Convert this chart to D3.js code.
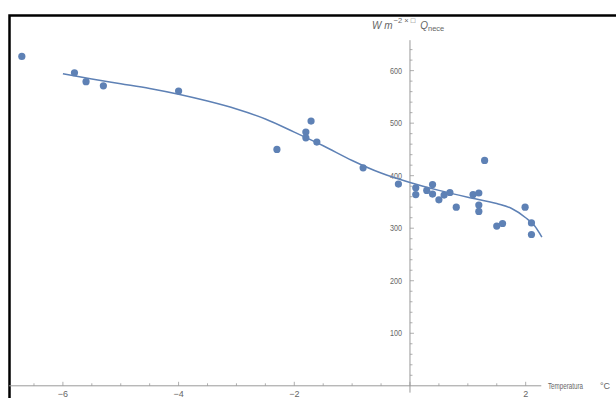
<!DOCTYPE html>
<html><head><meta charset="utf-8">
<script src="https://cdn.jsdelivr.net/npm/d3@7"></script>
<style>body{margin:0;background:#fff}svg{display:block}</style>
</head><body>
<script>
// Data
const temps = [-6.71,-5.80,-5.60,-5.30,-4.00,-2.30,-1.80,-1.80,-1.71,-1.61,-0.81,-0.20,0.10,0.10,0.29,0.39,0.39,0.50,0.59,0.69,0.80,1.09,1.19,1.19,1.19,1.29,1.50,1.60,1.99,2.10,2.10];
const qnece = [627,596,579,571,561,450,483,472,504,464,415,384,377,364,372,383,365,354,363,368,340,364,367,344,332,429,304,309,340,310,288];
// Fitted curve
const fitT = [-6.0,-5.5,-5.0,-4.5,-4.0,-3.5,-3.0,-2.5,-2.0,-1.5,-1.0,-0.5,0.0,0.5,1.0,1.5,1.75,2.0,2.15,2.28];
const fitQ = [594,584,575,566,555,542,527,508,483,457,429,405,387,372,359,347,338,320,305,283];
const xTickLabels = [-6,-4,-2,2];
const yTickLabels = [100,200,300,400,500,600];
const xLabel = "Temperatura";
const xUnit = "°C";

const W = 616, H = 398;
const svg = d3.select("body").append("svg").attr("width", W).attr("height", H);
const x = d3.scaleLinear().domain([-7, 2.5]).range([5.05, 554.6]);
const y = d3.scaleLinear().domain([0, 700]).range([385.8, 18.1]);
const axisCol = "#9a9a9a", txtCol = "#666", blue = "rgb(94,129,181)";
const font = "Liberation Sans, Arial, sans-serif";

// frame
svg.append("rect").attr("x", 9.5).attr("y", 15.5).attr("width", 700).attr("height", 500)
  .attr("fill", "none").attr("stroke", "#000").attr("stroke-width", 2.5);

// x axis
const g = svg.append("g");
g.append("line").attr("x1", x(-6.93)).attr("x2", x(2.27)).attr("y1", y(0)).attr("y2", y(0))
  .attr("stroke", axisCol).attr("stroke-width", 1);
d3.range(-13, 5).map(d => d / 2).forEach(v => {
  const major = Number.isInteger(v / 2);
  g.append("line").attr("x1", x(v)).attr("x2", x(v)).attr("y1", y(0)).attr("y2", y(0) - (major ? 4 : 2.5))
    .attr("stroke", axisCol).attr("stroke-width", 0.8);
});
xTickLabels.forEach(v => {
  g.append("text").attr("x", x(v)).attr("y", y(0) + 11).attr("text-anchor", "middle")
    .attr("font-family", font).attr("font-size", 9).attr("fill", txtCol)
    .text(v < 0 ? "\u2212" + Math.abs(v) : v);
});
g.append("text").attr("x", 548).attr("y", y(0) + 3).attr("font-family", font).attr("font-size", 9)
  .attr("fill", txtCol).attr("textLength", 35).attr("lengthAdjust", "spacingAndGlyphs").text(xLabel);
g.append("text").attr("x", 600).attr("y", y(0) + 3).attr("font-family", font).attr("font-size", 9)
  .attr("fill", txtCol).text(xUnit);

// y axis
g.append("line").attr("x1", x(0)).attr("x2", x(0)).attr("y1", y(-13)).attr("y2", y(658))
  .attr("stroke", axisCol).attr("stroke-width", 1);
d3.range(20, 660, 20).forEach(v => {
  const major = v % 100 === 0;
  g.append("line").attr("x1", x(0)).attr("x2", x(0) + (major ? 4 : 2.5)).attr("y1", y(v)).attr("y2", y(v))
    .attr("stroke", axisCol).attr("stroke-width", 0.8);
});
yTickLabels.forEach(v => {
  g.append("text").attr("x", x(0) - 8).attr("y", y(v) + 3).attr("text-anchor", "end")
    .attr("font-family", font).attr("font-size", 9).attr("fill", txtCol).attr("textLength", 12)
    .attr("lengthAdjust", "spacingAndGlyphs").text(v);
});
// y axis label
const yl = g.append("text").attr("x", 372).attr("y", 29).attr("font-family", font).attr("font-size", 10).attr("fill", txtCol);
yl.append("tspan").attr("font-style", "italic").text("W m");
yl.append("tspan").attr("dy", -6).attr("dx", 1).attr("font-size", 7.5).text("\u22122 \u00d7 \u25a1");
yl.append("tspan").attr("dy", 6).attr("dx", 5).attr("font-style", "italic").text("Q");
yl.append("tspan").attr("dy", 2).attr("font-size", 7.5).text("nece");

// fit curve
const line = d3.line().x((d, i) => x(fitT[i])).y((d, i) => y(fitQ[i])).curve(d3.curveMonotoneX);
svg.append("path").datum(fitT).attr("d", line).attr("fill", "none").attr("stroke", blue).attr("stroke-width", 1.5);

// points
svg.append("g").selectAll("circle").data(temps).join("circle")
  .attr("cx", (d) => x(d)).attr("cy", (d, i) => y(qnece[i])).attr("r", 3.6).attr("fill", blue);
</script>
</body></html>
